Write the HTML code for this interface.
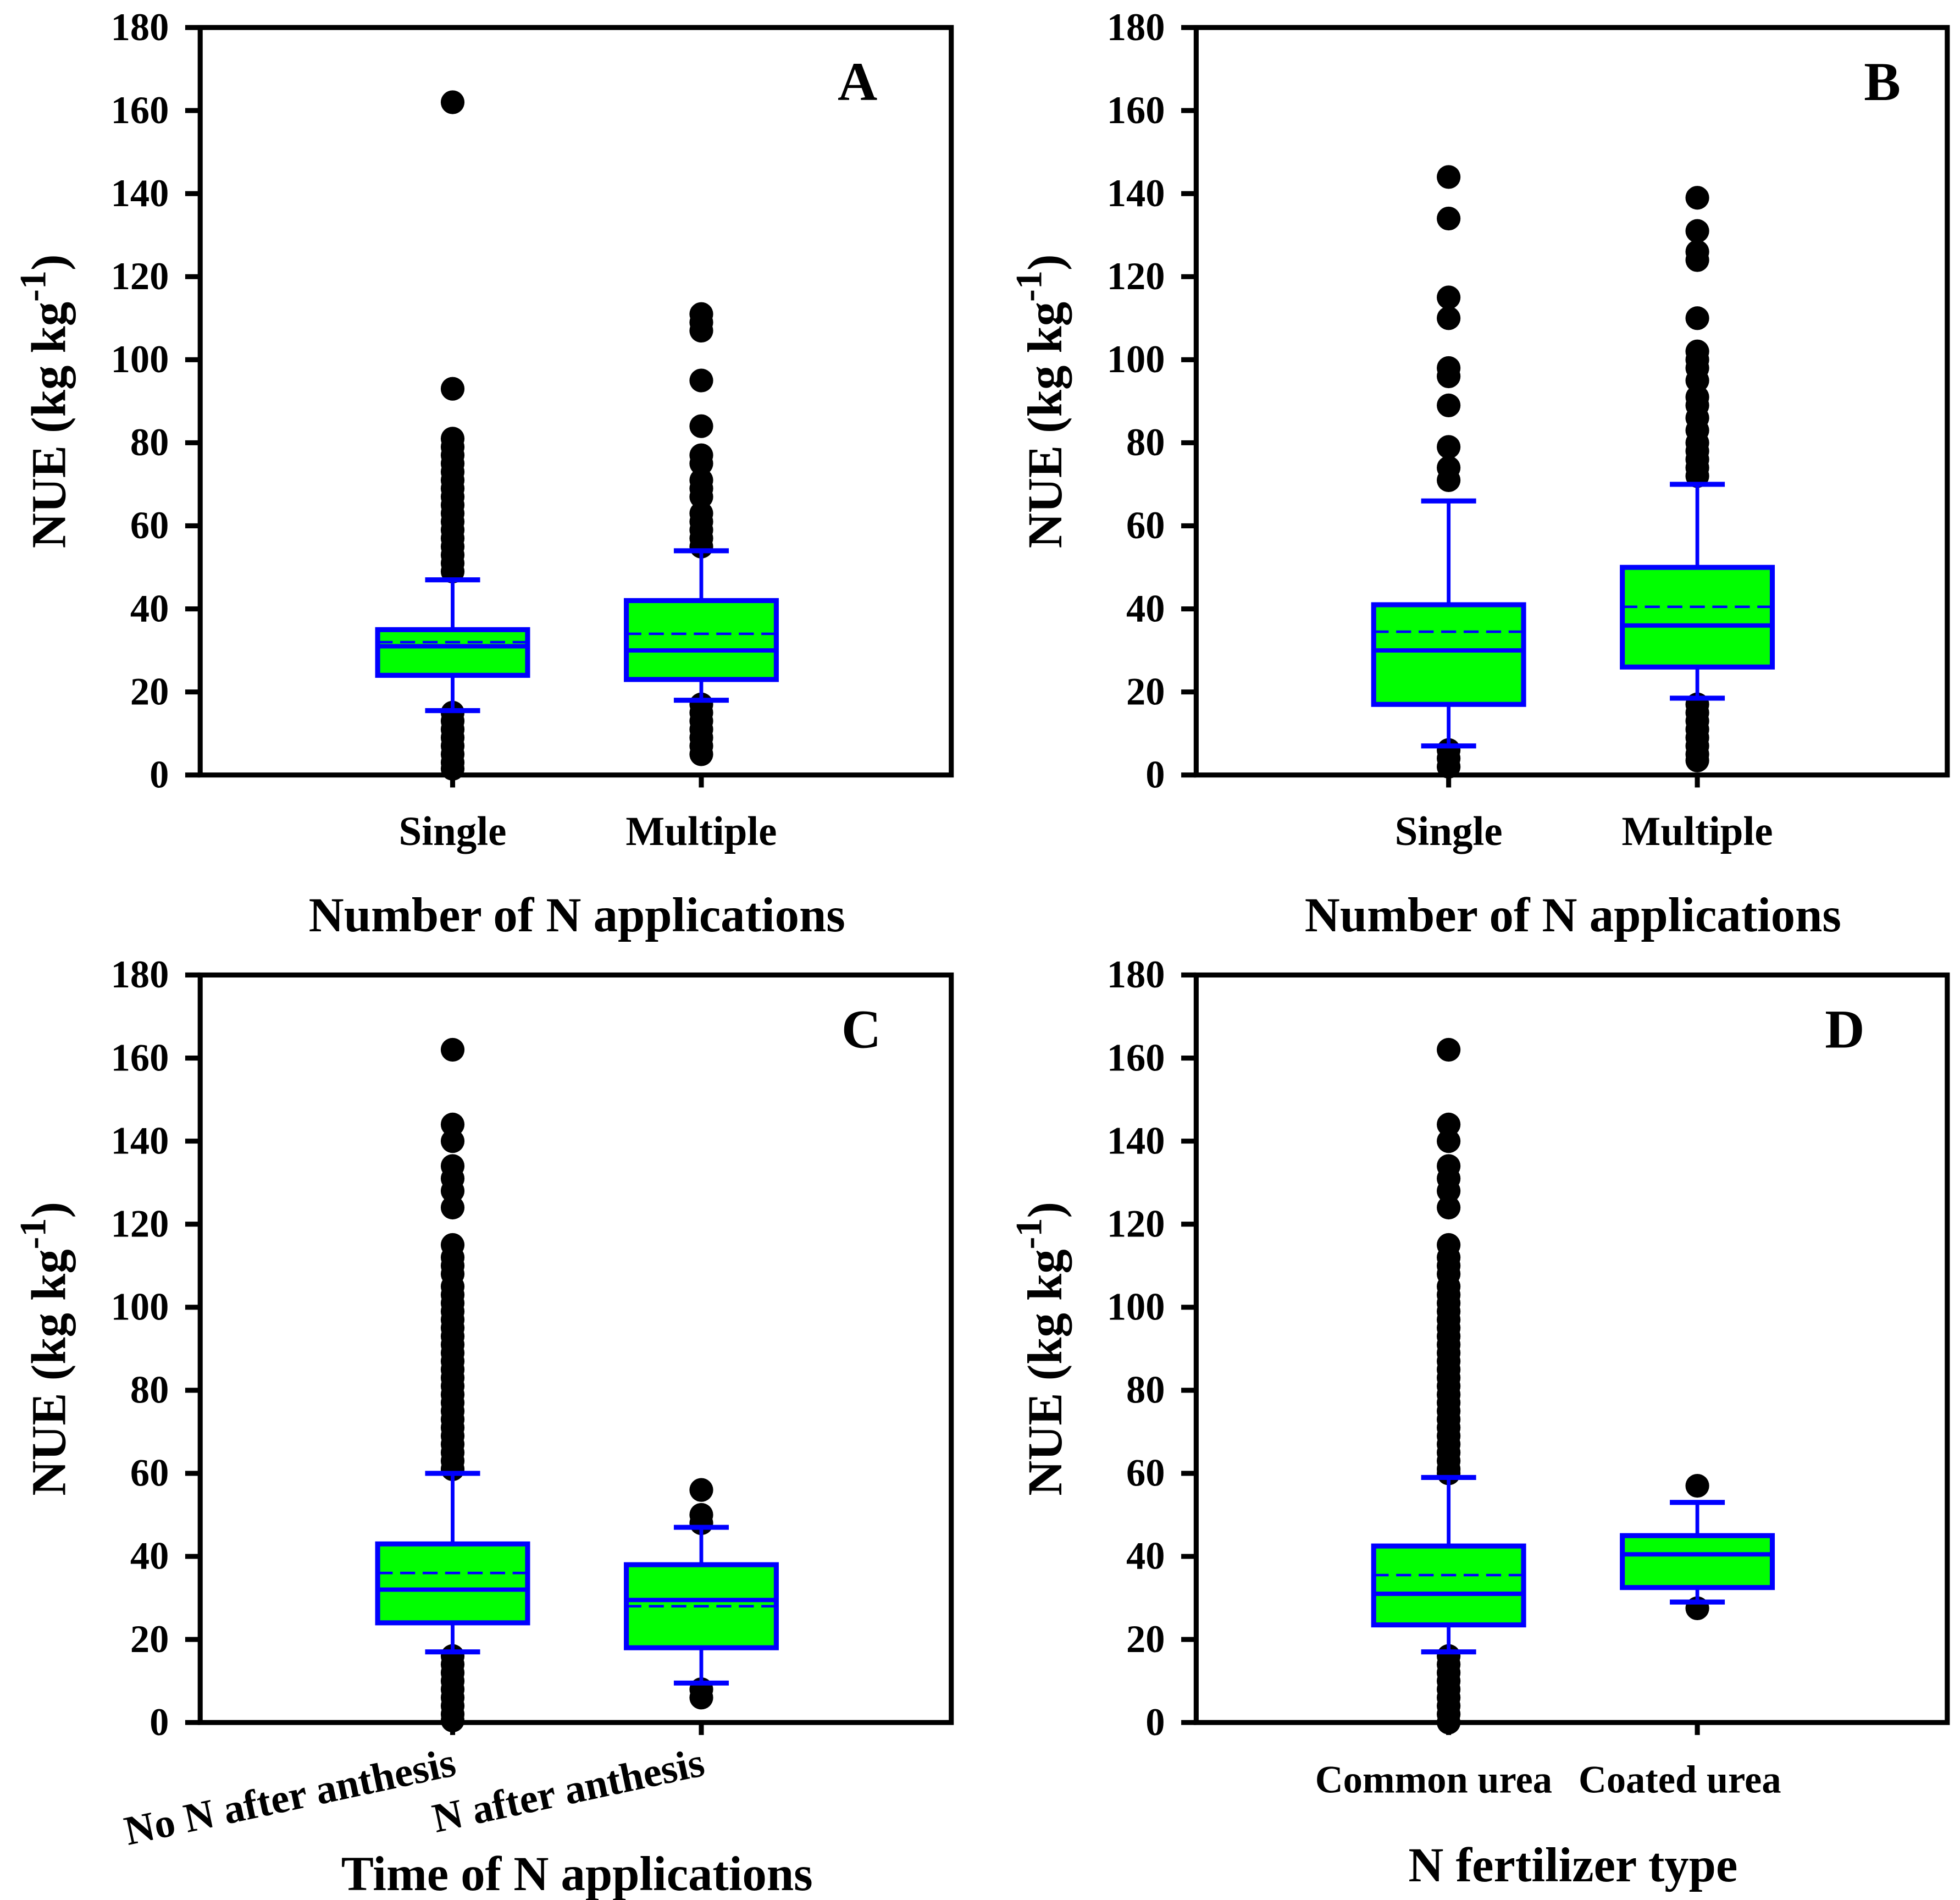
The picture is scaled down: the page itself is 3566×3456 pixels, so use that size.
<!DOCTYPE html>
<html><head><meta charset="utf-8"><style>
html,body{margin:0;padding:0;background:#fff;}
svg{display:block;}
text{font-family:"Liberation Serif",serif;font-weight:bold;fill:#000;}
</style></head><body>
<svg id="chart" width="3566" height="3456" viewBox="0 0 1568 1520" xmlns="http://www.w3.org/2000/svg"></svg>
<script>
const yTicks = [0,20,40,60,80,100,120,140,160,180];
const panelLetters = ["A","B","C","D"];
const panelXTitles = ["Number of N applications","Number of N applications","Time of N applications","N fertilizer type"];
const catsA = ["Single","Multiple"];
const catsB = ["Single","Multiple"];
const catsC = ["No N after anthesis","N after anthesis"];
const catsD = ["Common urea","Coated urea"];
// stats: [whiskerLow, q1, median, mean, q3, whiskerHigh]
const statsA = [[15.5,24,31,32,35,47],[18,23,30,34,42,54]];
const statsB = [[7,17,30,34.5,41,66],[18.5,26,36,40.5,50,70]];
const statsC = [[17,24,32,36,43,60],[9.5,18,29.5,28,38,47]];
const statsD = [[17,23.5,31,35.5,42.5,59],[29,32.5,40.5,40.5,45,53]];
const outA = [[162,93,81,79,77,75,73,71,69,67,65,63,61,59,57,55,53,51,49,15,13,11,9,7,5,3,1.5],
              [111,109,107,95,84,77,75,71,69,67,63,61,59,57,55,17,15,13,11,9,7,5]];
const outB = [[144,134,115,110,98,96,89,79,74,71,6,4,2],
              [139,131,126,124,110,102,100,98,95,91,89,86,83,80,78,76,74,72,17,15,13,11,9,7,5,3.5]];
const outC = [[162,144,140,134,131,128,124,115,112,110,108,105,103,101,99,97,95,93,91,89,87,85,83,81,79,77,75,73,71,69,67,65,63,61,16,14,12,10,8,6,4,2,0.5],
              [56,50,48,8,6]];
const outD = [[162,144,140,134,131,128,124,115,112,110,108,105,103,101,99,97,95,93,91,89,87,85,83,81,79,77,75,73,71,69,67,65,63,61,60,16,14,12,10,8,6,4,2,0],
              [57,27.5]];
const cats=[catsA,catsB,catsC,catsD], stats=[statsA,statsB,statsC,statsD], outs=[outA,outB,outC,outD];
const NS="http://www.w3.org/2000/svg";
const svg=document.getElementById('chart');
function mk(tag,attrs,parent,txt){const e=document.createElementNS(NS,tag);for(const k in attrs)e.setAttribute(k,attrs[k]);if(txt!==undefined)e.textContent=txt;parent.appendChild(e);return e;}
const panels=[{x0:160,x1:761,y0:22,y1:620},{x0:957,x1:1558,y0:22,y1:620},{x0:160,x1:761,y0:780,y1:1378},{x0:957,x1:1558,y0:780,y1:1378}];
const letterX=[686,1506,689,1476];
panels.forEach((p,pi)=>{
  const g=mk('g',{},svg);
  
  
  const yS=v=>p.y1-(v/180)*(p.y1-p.y0);
  const xS=i=>p.x0+202+i*199;
  const fr=mk('rect',{x:p.x0,y:p.y0,width:p.x1-p.x0,height:p.y1-p.y0,fill:'none',stroke:'#000','stroke-width':4},g);
  
  
  yTicks.forEach(t=>{
    const y=yS(t);
    const l=mk('line',{x1:p.x0-12,x2:p.x0,y1:y,y2:y,stroke:'#000','stroke-width':4},g);
    
    
    const tx=mk('text',{x:p.x0-25,y:y+10,'text-anchor':'end','font-size':31},g,String(t));
    
    
  });
  const yt=mk('text',{transform:`translate(${p.x0-108},${(p.y0+p.y1)/2}) rotate(-90)`,'text-anchor':'middle','font-size':39},g);
  
  
  yt.innerHTML='NUE (kg kg<tspan dy="-16" font-size="30">-1</tspan><tspan dy="16">)</tspan>';
  const lt=mk('text',{x:letterX[pi],y:p.y0+58,'text-anchor':'middle','font-size':44},g,panelLetters[pi]);
  
  
  cats[pi].forEach((c,i)=>{
    const cx=xS(i), s=stats[pi][i];
    const tk=mk('line',{x1:cx,x2:cx,y1:p.y1,y2:p.y1+10,stroke:'#000','stroke-width':4},g);
    
    
    outs[pi][i].forEach(v=>{
      const d=mk('circle',{cx:cx,cy:yS(v),r:9.5,fill:'#000'},g);
      
      
    });
    const w=mk('line',{x1:cx,x2:cx,y1:yS(s[0]),y2:yS(s[5]),stroke:'#0000ff','stroke-width':3},g);
    
    
    [s[0],s[5]].forEach(v=>{
      const cp=mk('line',{x1:cx-22,x2:cx+22,y1:yS(v),y2:yS(v),stroke:'#0000ff','stroke-width':4},g);
      
      
    });
    const b=mk('rect',{x:cx-60,y:yS(s[4]),width:120,height:yS(s[1])-yS(s[4]),fill:'#00ff00',stroke:'#0000ff','stroke-width':4},g);
    
    
    const md=mk('line',{x1:cx-60,x2:cx+60,y1:yS(s[2]),y2:yS(s[2]),stroke:'#0000ff','stroke-width':3.5},g);
    
    
    const mn=mk('line',{x1:cx-60,x2:cx+60,y1:yS(s[3]),y2:yS(s[3]),stroke:'#0000ff','stroke-width':2,'stroke-dasharray':'12,6'},g);
    
    
    let lbl;
    if(pi===2){
      lbl=mk('text',{transform:`translate(${cx+4},${p.y1+42}) rotate(-12)`,'text-anchor':'end','font-size':33},g,c);
    } else if(pi===3){
      lbl=mk('text',{x:cx+(i===0?-12:-14),y:p.y1+56,'text-anchor':'middle','font-size':31},g,c);
    } else {
      lbl=mk('text',{x:cx,y:p.y1+56,'text-anchor':'middle','font-size':33},g,c);
    }
    
    
  });
  const xtY=pi<2?745:(pi===2?1512:1505);
  const xt=mk('text',{x:(p.x0+p.x1)/2+1,y:xtY,'text-anchor':'middle','font-size':39},g,panelXTitles[pi]);
  
  
});
</script>
</body></html>
